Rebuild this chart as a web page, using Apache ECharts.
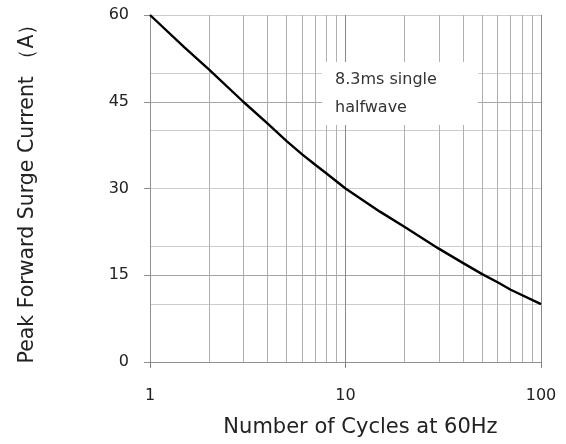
<!DOCTYPE html>
<html>
<head>
<meta charset="utf-8">
<script src="https://cdn.jsdelivr.net/npm/echarts@6/dist/echarts.min.js"></script>
<style>
  html, body { margin: 0; padding: 0; background: #fff; }
  #chart { width: 566px; height: 444px; }
</style>
</head>
<body>
<div id="chart"></div>
<script>
// Surge current vs. number of cycles (log x)
const cycles = [1, 1.5, 2, 3, 4, 5, 6, 7, 8, 10, 15, 20, 30, 40, 50, 60, 70, 100];
const surgeCurrent = [60, 54.4, 50.6, 45, 41.2, 38.2, 35.9, 34.1, 32.6, 30, 26.0, 23.4, 19.6, 17.1, 15.2, 13.8, 12.5, 10];

// Intermediate decade lines for the log grid
const minorCycleLines = [2, 3, 4, 5, 6, 7, 8, 9, 20, 30, 40, 50, 60, 70, 80, 90];

const yTicks = [0, 15, 30, 45, 60];
const xTicks = [1, 10, 100];

const FONT = 'DejaVu Sans';
const TEXT = '#222';

const chart = echarts.init(document.getElementById('chart'), null, { renderer: 'canvas' });

chart.setOption({
  animation: false,
  backgroundColor: '#fff',
  grid: { left: 150, right: 25, top: 15, bottom: 82 },
  xAxis: {
    type: 'log',
    logBase: 10,
    min: xTicks[0],
    max: xTicks[xTicks.length - 1],
    name: 'Number of Cycles at 60Hz',
    nameLocation: 'middle',
    nameGap: 55,
    nameTextStyle: { fontFamily: FONT, fontSize: 21, color: TEXT, padding: [0, 0, 0, 30] },
    axisLine: { show: true, lineStyle: { color: '#909090', width: 1 } },
    axisTick: { show: true, length: 6, lineStyle: { color: '#808080' } },
    axisLabel: { fontFamily: FONT, fontSize: 16, color: TEXT, margin: 26 },
    splitLine: { show: true, lineStyle: { color: '#8a8a8a', width: 1 } },
    minorTick: { show: false },
    minorSplitLine: { show: false }
  },
  yAxis: [
    {
      type: 'value',
      min: yTicks[0],
      max: yTicks[yTicks.length - 1],
      interval: 15,
      name: 'Peak Forward Surge Current （A）',
      nameLocation: 'middle',
      nameGap: 112,
      nameRotate: 90,
      nameTextStyle: { fontFamily: FONT, fontSize: 20.5, color: TEXT },
      axisLine: { show: true, lineStyle: { color: '#909090', width: 1 } },
      axisTick: { show: true, length: 6, lineStyle: { color: '#909090' } },
      axisLabel: { fontFamily: FONT, fontSize: 16, color: TEXT, margin: 21 },
      splitLine: { show: true, lineStyle: { color: '#a6a6a6', width: 1.2 } }
    },
    {
      type: 'value',
      min: 0,
      max: 60,
      interval: 10,
      position: 'left',
      axisLine: { show: false },
      axisTick: { show: false },
      axisLabel: { show: false },
      splitLine: { show: true, lineStyle: { color: '#cccccc', width: 1.2 } }
    }
  ],
  series: [
    {
      // minor vertical grid lines at 2..9 and 20..90
      type: 'line',
      yAxisIndex: 0,
      data: [[1, 0], [100, 0]],
      showSymbol: false,
      silent: true,
      lineStyle: { opacity: 0 },
      z: 1,
      markLine: {
        silent: true,
        symbol: ['none', 'none'],
        label: { show: false },
        lineStyle: { color: '#b0b0b0', width: 1, type: 'solid' },
        data: minorCycleLines.map(v => ({ xAxis: v }))
      }
    },
    {
      type: 'line',
      yAxisIndex: 0,
      data: cycles.map((c, i) => [c, surgeCurrent[i]]),
      smooth: false,
      showSymbol: false,
      lineStyle: { color: '#000', width: 2.4, join: 'round' },
      z: 5
    }
  ],
  graphic: [
    {
      type: 'rect',
      left: 322, top: 62,
      z: 100,
      shape: { width: 156, height: 63 },
      style: { fill: '#fff' }
    },
    {
      type: 'text',
      left: 335, top: 66,
      z: 101,
      style: {
        text: '8.3ms single\nhalfwave',
        fontFamily: FONT,
        fontSize: 16,
        lineHeight: 28,
        fill: '#333'
      }
    }
  ]
});
</script>
</body>
</html>
